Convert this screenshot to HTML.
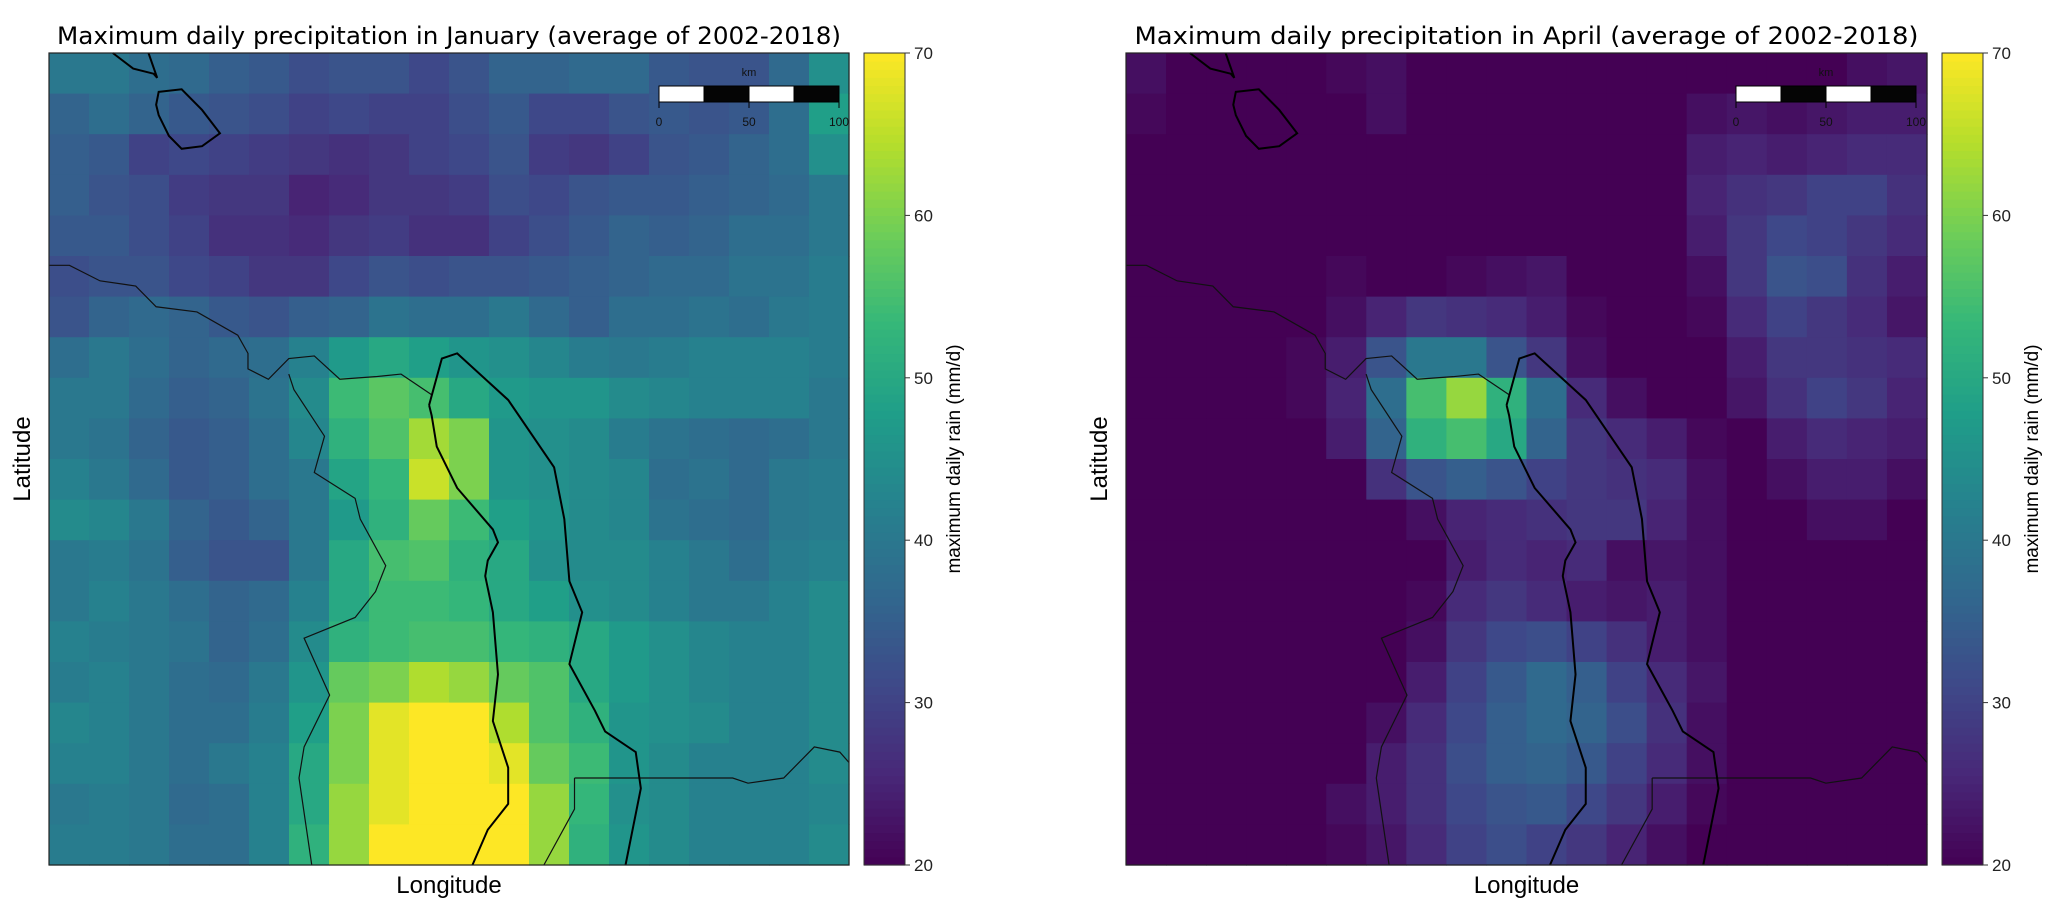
<!DOCTYPE html>
<html><head><meta charset="utf-8"><style>
body{margin:0;background:#fff;width:2067px;height:918px;overflow:hidden;font-family:"Liberation Sans","DejaVu Sans",sans-serif}
svg{position:absolute;left:0;top:0}
</style></head><body>
<svg id="fig" width="2067" height="918" xmlns="http://www.w3.org/2000/svg"></svg>
<script>
const janValues=[
[40,40,38,37,35,34,32,33,33,31,33,36,36,37,37,34,33,33,37,45],
[36,38,36,34,33,32,30,31,30,30,32,34,31,31,33,34,33,34,38,48],
[35,34,30,31,30,29,28,27,28,30,31,33,29,28,30,33,34,36,38,45],
[35,33,32,29,28,28,25,26,28,28,29,32,31,33,34,34,35,36,37,40],
[34,34,32,30,27,27,26,28,29,27,27,30,32,34,36,35,36,38,38,40],
[32,33,33,31,30,28,28,31,33,32,33,33,34,35,36,37,37,39,39,41],
[33,36,37,36,34,33,35,36,39,38,38,40,37,35,38,38,39,38,40,41],
[38,40,38,36,37,38,42,47,50,48,46,45,43,41,40,41,42,42,42,41],
[40,40,37,35,36,39,44,54,57,55,50,47,46,46,44,43,42,42,42,40],
[40,39,36,34,35,38,43,52,56,63,60,46,45,44,41,39,38,37,38,40],
[42,40,37,34,35,38,40,49,53,66,60,46,45,44,43,38,39,37,40,41],
[44,43,40,36,34,36,40,47,52,58,54,48,46,44,43,39,38,37,40,41],
[40,41,39,35,33,33,40,50,55,56,52,50,45,44,44,42,40,38,41,42],
[40,42,40,38,36,37,42,50,54,54,53,50,48,45,44,42,40,40,42,44],
[42,41,40,39,36,38,44,52,54,55,55,53,52,50,47,45,43,42,42,44],
[41,42,40,38,37,40,46,58,60,64,62,58,56,50,47,45,43,42,42,44],
[43,42,40,38,38,41,48,60,68,70,70,64,56,52,46,45,44,42,42,44],
[42,42,40,38,40,42,50,60,68,70,70,68,58,54,46,44,42,42,42,44],
[40,41,40,37,38,42,50,62,68,70,70,70,62,53,45,44,42,42,42,43],
[41,41,40,38,38,42,52,62,70,70,70,70,62,52,46,44,42,42,42,44]];
const aprValues=[
[22,20,20,20,20,21,22,20,20,20,20,20,20,20,20,20,20,20,22,23],
[21,20,20,20,20,20,22,20,20,20,20,20,20,20,22,23,22,23,24,24],
[20,20,20,20,20,20,20,20,20,20,20,20,20,20,24,25,24,25,26,26],
[20,20,20,20,20,20,20,20,20,20,20,20,20,20,25,27,28,30,30,27],
[20,20,20,20,20,20,20,20,20,20,20,20,20,20,24,28,31,30,28,26],
[20,20,20,20,20,21,20,20,21,22,23,20,20,20,22,28,33,32,27,24],
[20,20,20,20,20,22,25,28,27,26,24,21,20,20,21,26,30,28,26,23],
[20,20,20,20,21,24,33,40,40,33,28,22,20,20,20,24,28,28,27,26],
[20,20,20,20,21,25,38,55,62,52,38,26,22,20,20,23,27,30,28,25],
[20,20,20,20,20,24,36,52,55,50,36,28,26,24,21,20,24,26,25,24],
[20,20,20,20,20,20,27,33,35,33,30,28,27,26,22,20,22,24,24,22],
[20,20,20,20,20,20,20,22,25,26,27,28,28,25,22,20,20,22,22,20],
[20,20,20,20,20,20,20,20,24,26,25,26,22,23,22,20,20,20,20,20],
[20,20,20,20,20,20,20,21,26,28,26,24,23,24,22,20,20,20,20,20],
[20,20,20,20,20,20,20,22,28,31,32,30,27,24,22,20,20,20,20,20],
[20,20,20,20,20,20,20,24,30,34,37,35,30,26,23,20,20,20,20,20],
[20,20,20,20,20,20,22,26,31,35,37,36,32,27,22,20,20,20,20,20],
[20,20,20,20,20,20,24,27,32,35,36,34,30,26,22,20,20,20,20,20],
[20,20,20,20,20,22,24,27,31,33,34,31,28,24,21,20,20,20,20,20],
[20,20,20,20,20,21,23,26,30,32,30,28,25,22,20,20,20,20,20,20]];
const cbTicks=[20,30,40,50,60,70];
const titles=["Maximum daily precipitation in January (average of 2002-2018)","Maximum daily precipitation in April (average of 2002-2018)"];
const scaleTicks=[0,50,100];

const NS="http://www.w3.org/2000/svg";
const svg=document.getElementById('fig');
function mk(t,a,p){const e=document.createElementNS(NS,t);for(const k in a)e.setAttribute(k,a[k]);(p||svg).appendChild(e);return e;}
const vir=[[68,1,84],[72,40,120],[62,73,137],[49,104,142],[38,130,142],[31,158,137],[53,183,121],[110,206,88],[181,222,43],[253,231,37]];
function cmap(v){let t=Math.max(0,Math.min(1,(v-20)/50))*9;const i=Math.min(8,Math.floor(t)),f=t-i;const a=vir[i],b=vir[i+1];
return`rgb(${a.map((c,k)=>Math.round(c+(b[k]-c)*f)).join(',')})`;}
const panels=[{x:49,cb:864,vals:janValues},{x:1126,cb:1942,vals:aprValues}];
const plotTop=53,H=812;
const coastThin="M0,410 L40,410 100,440 170,450 210,490 290,500 370,545 390,580 390,610 430,630 470,590 520,585 570,630 640,625 690,620 750,660 M470,620 L480,650 540,740 520,810 600,860 610,900 660,990 640,1040 600,1090 500,1130 550,1240 500,1340 490,1400 515,1568 M1030,1400 L1340,1400 1370,1410 1440,1400 1500,1340 1550,1350 1568,1370 M1030,1400 L1030,1460 970,1568";
const coastThick="M125,0 L165,30 205,40 212,48 195,0 M215,75 L260,70 300,110 335,155 300,180 260,185 235,160 215,120 210,100 Z M745,680 L770,590 800,580 900,670 990,800 1010,900 1020,1020 1045,1080 1020,1180 1070,1270 1090,1310 1150,1350 1160,1420 1130,1568 M745,680 L750,700 760,760 800,840 870,920 880,945 860,980 855,1010 870,1080 880,1200 870,1290 900,1380 900,1450 860,1500 830,1568";
panels.forEach((p,pi)=>{
  const W=pi==0?800:801;
  const g=mk('g',{});
  
  
  const rows=p.vals.length,cols=p.vals[0].length;
  const xs=c=>p.x+c*W/cols, ys=r=>plotTop+r*H/rows;
  p.vals.forEach((row,r)=>row.forEach((v,c)=>{
    const cell=mk('rect',{x:xs(c),y:ys(r),width:W/cols+0.6,height:H/rows+0.6,fill:cmap(v)},g);
    
    
  }));
  const cg=mk('g',{transform:`translate(${p.x},${plotTop}) scale(${W/1568},${H/1568})`});
  
  
  mk('path',{d:coastThin,fill:'none',stroke:'#111','stroke-width':1.2,'vector-effect':'non-scaling-stroke'},cg);
  mk('path',{d:coastThick,fill:'none',stroke:'#000','stroke-width':2,'vector-effect':'non-scaling-stroke'},cg);
  const fr=mk('rect',{x:p.x,y:plotTop,width:W,height:H,fill:'none',stroke:'#222','stroke-width':1.2});
  
  
  const sb=mk('g',{});
  
  
  const sx=p.x+610,sw=180,sy=plotTop+33;
  for(let i=0;i<4;i++)mk('rect',{x:sx+i*sw/4,y:sy,width:sw/4,height:16,fill:i%2?'#050505':'#fff',stroke:'#000','stroke-width':1},sb);
  scaleTicks.forEach(t=>{const tx=sx+sw*t/100;mk('line',{x1:tx,x2:tx,y1:sy+16,y2:sy+22,stroke:'#000'},sb);
    const tl=mk('text',{x:tx,y:sy+40,'font-size':12,'text-anchor':'middle',fill:'#111'},sb);tl.textContent=t;});
  const km=mk('text',{x:sx+sw/2,y:sy-10,'font-size':11,'text-anchor':'middle',fill:'#111'},sb);km.textContent='km';
  const tt=mk('text',{x:p.x+W/2,y:44,'font-size':24,'text-anchor':'middle',fill:'#000',textLength:784,lengthAdjust:'spacingAndGlyphs','font-family':'"DejaVu Sans","Liberation Sans",sans-serif'});
  tt.textContent=titles[pi];
  
  
  const xl=mk('text',{x:p.x+W/2,y:893,'font-size':24,'text-anchor':'middle',fill:'#000'});
  xl.textContent='Longitude';
  
  
  const ylx=p.x-19;
  const yl=mk('text',{x:ylx,y:plotTop+H/2,'font-size':24,'text-anchor':'middle',fill:'#000',transform:`rotate(-90 ${ylx} ${plotTop+H/2})`});
  yl.textContent='Latitude';
  
  
  const cbg=mk('g',{});
  
  
  const N=100;
  for(let i=0;i<N;i++){const v=20+50*i/N;mk('rect',{x:p.cb,y:plotTop+H-(i+1)*H/N,width:41,height:H/N+0.6,fill:cmap(v+0.25)},cbg);}
  mk('rect',{x:p.cb,y:plotTop,width:41,height:H,fill:'none',stroke:'#333','stroke-width':1},cbg);
  const cy=v=>plotTop+H-(v-20)/50*H;
  cbTicks.forEach(t=>{mk('line',{x1:p.cb+41,x2:p.cb+46,y1:cy(t),y2:cy(t),stroke:'#333'},cbg);
    const tl=mk('text',{x:p.cb+50,y:cy(t)+6,'font-size':17,fill:'#222'},cbg);tl.textContent=t;
    
    });
  const lx=p.cb+96;
  const cl=mk('text',{x:lx,y:plotTop+H/2,'font-size':19,'text-anchor':'middle',fill:'#000',transform:`rotate(-90 ${lx} ${plotTop+H/2})`});
  cl.textContent='maximum daily rain (mm/d)';
  
  
});
</script>
</body></html>
